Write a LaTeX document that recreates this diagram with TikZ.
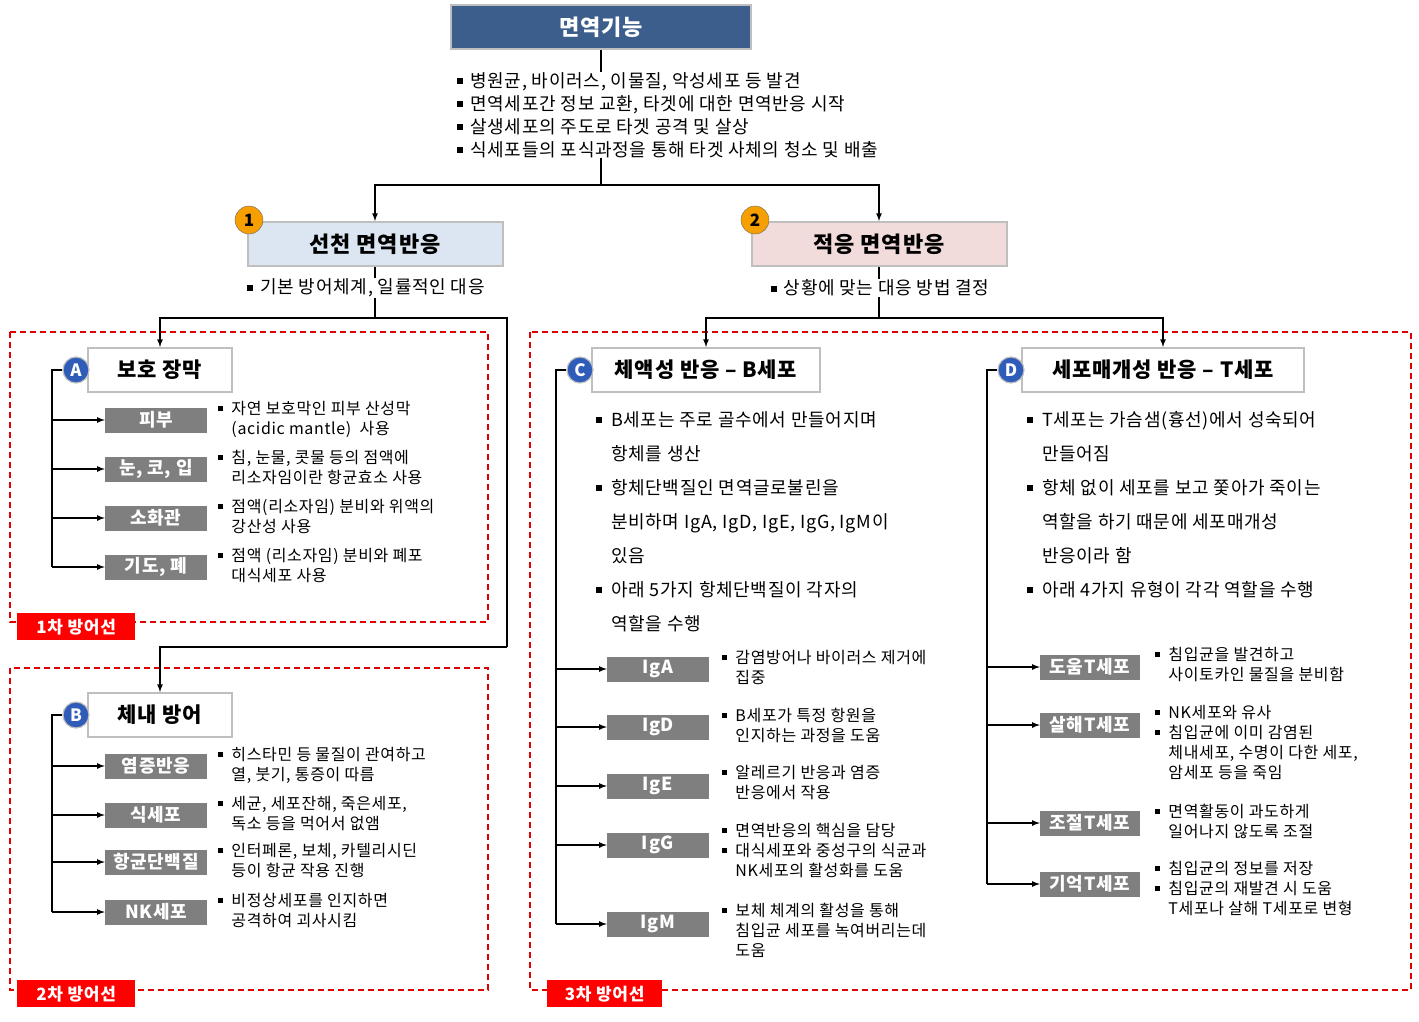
\documentclass[tikz,border=0pt]{standalone}
\usepackage{fontspec}
\setmainfont{Noto Sans CJK KR}[LetterSpace=4]
\usetikzlibrary{positioning}
\definecolor{titleblue}{HTML}{3B5E8C}
\definecolor{innateblue}{HTML}{DCE6F2}
\definecolor{adaptpink}{HTML}{F2DCDB}
\definecolor{boxgray}{HTML}{7F7F7F}
\definecolor{linegray}{HTML}{BFBFBF}
\definecolor{dashred}{HTML}{E00000}
\definecolor{numorange}{HTML}{F5A000}
\definecolor{letterblue}{HTML}{2E5CB8}
\newcommand\blt{\rule[0.3ex]{0.33em}{0.33em}\hspace{0.4em}}
\newcommand\bsq{\rule[0.3ex]{0.33em}{0.33em}}
\tikzset{
  head/.style={draw=linegray, line width=2pt, minimum height=44pt, inner sep=0pt, font=\fontsize{22}{24}\selectfont\bfseries},
  sub/.style={draw=linegray, line width=2pt, fill=white, minimum height=44pt, inner sep=0pt, font=\fontsize{21}{24}\selectfont\bfseries},
  item/.style={fill=boxgray, text=white, minimum height=25pt, inner sep=0pt, font=\fontsize{18}{20}\selectfont\bfseries},
  desc/.style={anchor=west, inner sep=0pt, align=left, font=\fontsize{16}{20}\selectfont},
  para/.style={anchor=north west, inner sep=0pt, align=left, font=\fontsize{18}{34}\selectfont},
  num/.style={circle, fill=numorange, draw=black!60, minimum size=28pt, inner sep=0pt, font=\fontsize{17}{18}\selectfont\bfseries},
  ltr/.style={circle, fill=letterblue, draw=linegray, line width=1.2pt, minimum size=26pt, inner sep=0pt, text=white, font=\fontsize{17}{18}\selectfont\bfseries},
  tag/.style={fill=red, text=white, minimum height=27pt, inner sep=4pt, font=\fontsize{17}{18}\selectfont\bfseries},
  zone/.style={draw=dashred, line width=1.3pt, dash pattern=on 6pt off 4pt},
  conn/.style={line width=1.6pt},
  arr/.style={line width=1.6pt, ->, >=latex}
}
\begin{document}
\begin{tikzpicture}[x=1pt, y=-1pt]
\useasboundingbox (0,0) rectangle (1419,1021);
% top
\node[head, fill=titleblue, text=white, minimum width=300pt] (top) at (601,27) {면역기능};
\node[anchor=north west, inner sep=0pt, align=left, font=\fontsize{18}{23}\selectfont] (toptext) at (457,72)
  {\blt 병원균, 바이러스, 이물질, 악성세포 등 발견\\
   \blt 면역세포간 정보 교환, 타겟에 대한 면역반응 시작\\
   \blt 살생세포의 주도로 타겟 공격 및 살상\\
   \blt 식세포들의 포식과정을 통해 타겟 사체의 청소 및 배출};
\node[head, fill=innateblue, minimum width=255pt] (innate) at (375,244) {선천 면역반응};
\node[head, fill=adaptpink, minimum width=255pt] (adapt) at (879,244) {적응 면역반응};
\node[num] (n1) at (249,220) {1};
\node[num] (n2) at (755,220) {2};
\coordinate (split) at (601,185);
\draw[conn] (top) -- (toptext.north -| top);
\draw[conn] (toptext.south -| top) -- (split);
\draw[arr] (split) -| (innate);
\draw[arr] (split) -| (adapt);
\node[font=\fontsize{18}{20}\selectfont, inner sep=1pt] (innatetext) at (366,288) {\blt 기본 방어체계, 일률적인 대응};
\node[font=\fontsize{18}{20}\selectfont, inner sep=1pt] (adapttext) at (880,288) {\blt 상황에 맞는 대응 방법 결정};

% zones
\draw[zone] (10,332) rectangle (488,622);
\draw[zone] (10,668) rectangle (488,990);
\draw[zone] (530,332) rectangle (1411,990);
\node[tag, anchor=north west, minimum width=118pt] (tag1) at (17,613) {1차 방어선};
\node[tag, anchor=north west, minimum width=118pt] (tag2) at (17,980) {2차 방어선};
\node[tag, anchor=north west, minimum width=115pt] (tag3) at (547,980) {3차 방어선};

% innate branches
\node[sub, minimum width=144pt] (barrier) at (160,370) {보호 장막};
\node[sub, minimum width=144pt] (inner) at (160,715) {체내 방어};
\coordinate (innatesplit) at (375,318);
\coordinate (innateright) at (507,318);
\coordinate (innatedown) at (507,647);
\draw[conn] (innate) -- (innatetext.north -| innate);
\draw[conn] (innatetext.south -| innate) -- (innatesplit);
\draw[arr] (innatesplit) -| (barrier);
\draw[conn] (innatesplit) -- (innateright) -- (innatedown);
\draw[arr] (innatedown) -| (inner);
\node[ltr] (la) at (76,370) {A};
\node[ltr] (lb) at (76,715) {B};

% adaptive branches
\node[sub, minimum width=228pt] (humoral) at (706,370) {체액성 반응 – B세포};
\node[sub, minimum width=282pt] (cellular) at (1163,370) {세포매개성 반응 – T세포};
\coordinate (adaptsplit) at (879,318);
\draw[conn] (adapt) -- (adapttext.north -| adapt);
\draw[conn] (adapttext.south -| adapt) -- (adaptsplit);
\draw[arr] (adaptsplit) -| (humoral);
\draw[arr] (adaptsplit) -| (cellular);
\node[ltr] (lc) at (580,370) {C};
\node[ltr] (ld) at (1011,370) {D};

% A items
\coordinate (abar) at (52,370);
\draw[conn] (la) -- (abar) -- (52,567);
\foreach \y/\name/\txt/\da/\db in {420/skin/피부/자연 보호막인 피부 산성막/(acidic mantle)~ 사용,
    469/nose/{눈, 코, 입}/{침, 눈물, 콧물 등의 점액에}/리소자임이란 항균효소 사용,
    518/gut/소화관/점액(리소자임) 분비와 위액의/강산성 사용,
    567/lung/{기도, 폐}/점액 (리소자임) 분비와 폐포/대식세포 사용} {
  \node[item, minimum width=102pt] (\name) at (156,\y) {\txt};
  \draw[arr] (52,\y) -- (\name);
  \node[desc] (\name d) at (218,\y) {\begin{tabular}{@{}l@{\hspace{0.5em}}l@{}}\bsq & \da\\ & \db\end{tabular}};
}
% B items
\draw[conn] (lb) -- (52,715) -- (52,912);
\foreach \y/\name/\txt/\da/\db in {766/inflam/염증반응/히스타민 등 물질이 관여하고/{열, 붓기, 통증이 따름},
    815/phago/식세포/{세균, 세포잔해, 죽은세포,}/독소 등을 먹어서 없앰,
    862/antimic/항균단백질/{인터페론, 보체, 카텔리시딘}/등이 항균 작용 진행,
    912/nk/NK세포/비정상세포를 인지하면/공격하여 괴사시킴} {
  \node[item, minimum width=102pt] (\name) at (156,\y) {\txt};
  \draw[arr] (52,\y) -- (\name);
  \node[desc] (\name d) at (218,\y) {\begin{tabular}{@{}l@{\hspace{0.5em}}l@{}}\bsq & \da\\ & \db\end{tabular}};
}

% C text and items
\node[para] (ctext) at (596,402) {\begin{tabular}{@{}l@{\hspace{0.5em}}l@{}}
  \bsq & B세포는 주로 골수에서 만들어지며\\ & 항체를 생산\\
  \bsq & 항체단백질인 면역글로불린을\\ & 분비하며 IgA, IgD, IgE, IgG, IgM이\\ & 있음\\
  \bsq & 아래 5가지 항체단백질이 각자의\\ & 역할을 수행\end{tabular}};
\draw[conn] (lc) -- (556,370) -- (556,924);
\foreach \y/\name/\txt in {669/iga/IgA, 727/igd/IgD, 786/ige/IgE, 845/igg/IgG, 924/igm/IgM} {
  \node[item, minimum width=102pt] (\name) at (658,\y) {\txt};
  \draw[arr] (556,\y) -- (\name);
}
\node[desc] (igad) at (722,669) {\begin{tabular}{@{}l@{\hspace{0.5em}}l@{}}\bsq & 감염방어나 바이러스 제거에\\ & 집중\end{tabular}};
\node[desc] (igdd) at (722,727) {\begin{tabular}{@{}l@{\hspace{0.5em}}l@{}}\bsq & B세포가 특정 항원을\\ & 인지하는 과정을 도움\end{tabular}};
\node[desc] (iged) at (722,784) {\begin{tabular}{@{}l@{\hspace{0.5em}}l@{}}\bsq & 알레르기 반응과 염증\\ & 반응에서 작용\end{tabular}};
\node[desc] (iggd) at (722,852) {\begin{tabular}{@{}l@{\hspace{0.5em}}l@{}}\bsq & 면역반응의 핵심을 담당\\ \bsq & 대식세포와 중성구의 식균과\\ & NK세포의 활성화를 도움\end{tabular}};
\node[desc] (igmd) at (722,932) {\begin{tabular}{@{}l@{\hspace{0.5em}}l@{}}\bsq & 보체 체계의 활성을 통해\\ & 침입균 세포를 녹여버리는데\\ & 도움\end{tabular}};

% D text and items
\node[para] (dtext) at (1027,402) {\begin{tabular}{@{}l@{\hspace{0.5em}}l@{}}
  \bsq & T세포는 가슴샘(흉선)에서 성숙되어\\ & 만들어짐\\
  \bsq & 항체 없이 세포를 보고 쫓아가 죽이는\\ & 역할을 하기 때문에 세포매개성\\ & 반응이라 함\\
  \bsq & 아래 4가지 유형이 각각 역할을 수행\end{tabular}};
\draw[conn] (ld) -- (987,370) -- (987,884);
\foreach \y/\name/\txt in {667/helper/도움T세포, 725/killer/살해T세포, 823/reg/조절T세포, 884/memory/기억T세포} {
  \node[item, minimum width=100pt] (\name) at (1090,\y) {\txt};
  \draw[arr] (987,\y) -- (\name);
}
\node[desc] (helperd) at (1155,666) {\begin{tabular}{@{}l@{\hspace{0.5em}}l@{}}\bsq & 침입균을 발견하고\\ & 사이토카인 물질을 분비함\end{tabular}};
\node[desc] (killerd) at (1155,744) {\begin{tabular}{@{}l@{\hspace{0.5em}}l@{}}\bsq & NK세포와 유사\\ \bsq & 침입균에 이미 감염된\\ & 체내세포, 수명이 다한 세포,\\ & 암세포 등을 죽임\end{tabular}};
\node[desc] (regd) at (1155,823) {\begin{tabular}{@{}l@{\hspace{0.5em}}l@{}}\bsq & 면역활동이 과도하게\\ & 일어나지 않도록 조절\end{tabular}};
\node[desc] (memoryd) at (1155,890) {\begin{tabular}{@{}l@{\hspace{0.5em}}l@{}}\bsq & 침입균의 정보를 저장\\ \bsq & 침입균의 재발견 시 도움\\ & T세포나 살해 T세포로 변형\end{tabular}};
\end{tikzpicture}
\end{document}
